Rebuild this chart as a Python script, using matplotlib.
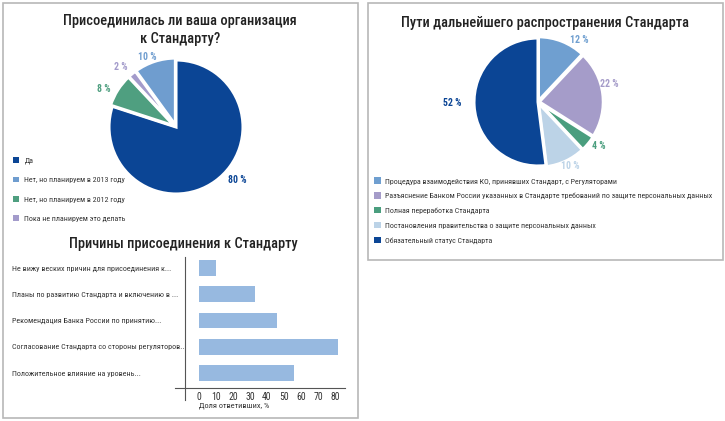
import numpy as np
import matplotlib
matplotlib.use('Agg')
import matplotlib.pyplot as plt
from matplotlib.patches import Patch, Rectangle

# Присоединилась ли ваша организация (порядок как в легенде)
join_labels = ['Да', 'Нет, но планируем в 2013 году',
               'Нет, но планируем в 2012 году', 'Пока не планируем это делать']
join_values = [80, 10, 8, 2]
join_colors = ['#0b4595', '#6f9dcf', '#4f9f80', '#a39bcb']
join_order = [0, 2, 3, 1]  # порядок секторов по часовой стрелке

# Пути дальнейшего распространения
ways_labels = ['Процедура взаимодействия КО, принявших Стандарт, с Регуляторами',
               'Разъяснение Банком России указанных в Стандарте требований по защите персональных данных',
               'Полная переработка Стандарта',
               'Постановления правительства о защите персональных данных',
               'Обязательный статус Стандарта']
ways_values = [12, 22, 4, 10, 52]
ways_colors = ['#6f9fd0', '#a59cc9', '#4a9e7e', '#bcd3e7', '#0b4595']

# Причины присоединения
reason_labels = ['Не вижу веских причин для присоединения к...',
                 'Планы по развитию Стандарта и включению в ...',
                 'Рекомендация Банка России по принятию...',
                 'Согласование Стандарта со стороны регуляторов...',
                 'Положительное влияние на уровень...']
reason_values = [10, 33, 46, 82, 56]
reason_ticks = [0, 10, 20, 30, 40, 50, 60, 70, 80]

plt.rcParams['font.family'] = ['Roboto Condensed', 'Liberation Sans Narrow',
                               'Liberation Sans', 'DejaVu Sans']

W, H = 725, 421
fig = plt.figure(figsize=(W / 100, H / 100), dpi=100)


def rect(l, t, w, h):
    return [l / W, 1 - (t + h) / H, w / W, h / H]


def frame(l, t, r, b):
    fig.patches.append(Rectangle((l / W, 1 - b / H), (r - l) / W, (b - t) / H,
                                 transform=fig.transFigure, fill=False,
                                 ec='#b8b8b8', lw=1.2))


def draw_pie(ax, values, colors, explode, lab_pos):
    ax.pie(values, colors=colors, startangle=90, counterclock=False,
           explode=explode, wedgeprops=dict(edgecolor='white', linewidth=2.2))
    for v, c, (ang, r) in zip(values, colors, lab_pos):
        a = np.deg2rad(ang)
        ax.text(r * np.cos(a), r * np.sin(a), f'{v} %', color=c,
                ha='center', va='center', fontsize=7, fontweight='bold')
    ax.set_xlim(-1.5, 1.5)
    ax.set_ylim(-1.5, 1.5)
    ax.axis('off')


title_kw = dict(ha='center', va='center', fontsize=10.4, fontweight='medium',
                color='#222222')

frame(3, 3, 358, 418)
frame(368, 3, 723, 260)

# левая круговая
ax1 = fig.add_axes(rect(176 - 100.5, 127 - 100.5, 201, 201))
vals = [join_values[i] for i in join_order]
cols = [join_colors[i] for i in join_order]
draw_pie(ax1, vals, cols, [0, 0.03, 0.03, 0.03],
         [(-41, 1.21), (152.5, 1.22), (133, 1.22), (112.5, 1.13)])
fig.text(180 / W, 1 - 30 / H, 'Присоединилась ли ваша организация\nк Стандарту?',
         linespacing=1.3, **title_kw)
fig.legend(handles=[Patch(fc=c) for c in join_colors], labels=join_labels,
           loc='upper left', bbox_to_anchor=(13 / W, 1 - 157 / H), frameon=False,
           fontsize=5.7, labelspacing=1.58, handlelength=0.75, handleheight=0.75,
           handletextpad=0.7, borderpad=0, borderaxespad=0, labelcolor='#333333')

# правая круговая
ax2 = fig.add_axes(rect(538 - 96, 102 - 96, 192, 192))
draw_pie(ax2, ways_values, ways_colors, [0.02, 0.02, 0.02, 0.02, 0],
         [(56.5, 1.16), (14, 1.14), (-35.8, 1.17), (-63.4, 1.12), (181, 1.34)])
fig.text(545 / W, 1 - 23 / H, 'Пути дальнейшего распространения Стандарта',
         **title_kw)
fig.legend(handles=[Patch(fc=c) for c in ways_colors], labels=ways_labels,
           loc='upper left', bbox_to_anchor=(374 / W, 1 - 177.5 / H), frameon=False,
           fontsize=5.65, labelspacing=1.0, handlelength=0.85, handleheight=0.85,
           handletextpad=0.6, borderpad=0, borderaxespad=0, labelcolor='#333333')

# столбчатая
ax3 = fig.add_axes(rect(175, 255, 170, 133))
y = np.arange(len(reason_values))
ax3.barh(y, reason_values, height=0.6, color='#97b9e0')
ax3.set_xlim(-14.1, 85.9)
ax3.set_ylim(4.57, -0.5)
for s in ['top', 'right', 'left']:
    ax3.spines[s].set_visible(False)
ax3.spines['bottom'].set_color('#555555')
ax3.spines['bottom'].set_linewidth(0.8)
ax3.axvline(-8.2, ymin=-0.09, ymax=0.985, color='#555555', lw=0.8, clip_on=False)
ax3.set_xticks(reason_ticks)
ax3.tick_params(axis='x', length=0, pad=3, labelsize=7, colors='#333333')
ax3.set_yticks(y, reason_labels)
ax3.tick_params(axis='y', length=0, pad=(175 - 12) * 0.72, labelsize=5.8,
                colors='#333333')
for t in ax3.get_yticklabels():
    t.set_ha('left')
ax3.set_xlabel('Доля ответивших, %', fontsize=6, color='#333333', ha='left')
ax3.xaxis.set_label_coords((199 - 175) / 170, -0.11)
ax3.patch.set_alpha(0)
fig.text(183 / W, 1 - 244 / H, 'Причины присоединения к Стандарту', **title_kw)

fig.savefig('out.png', dpi=100)
